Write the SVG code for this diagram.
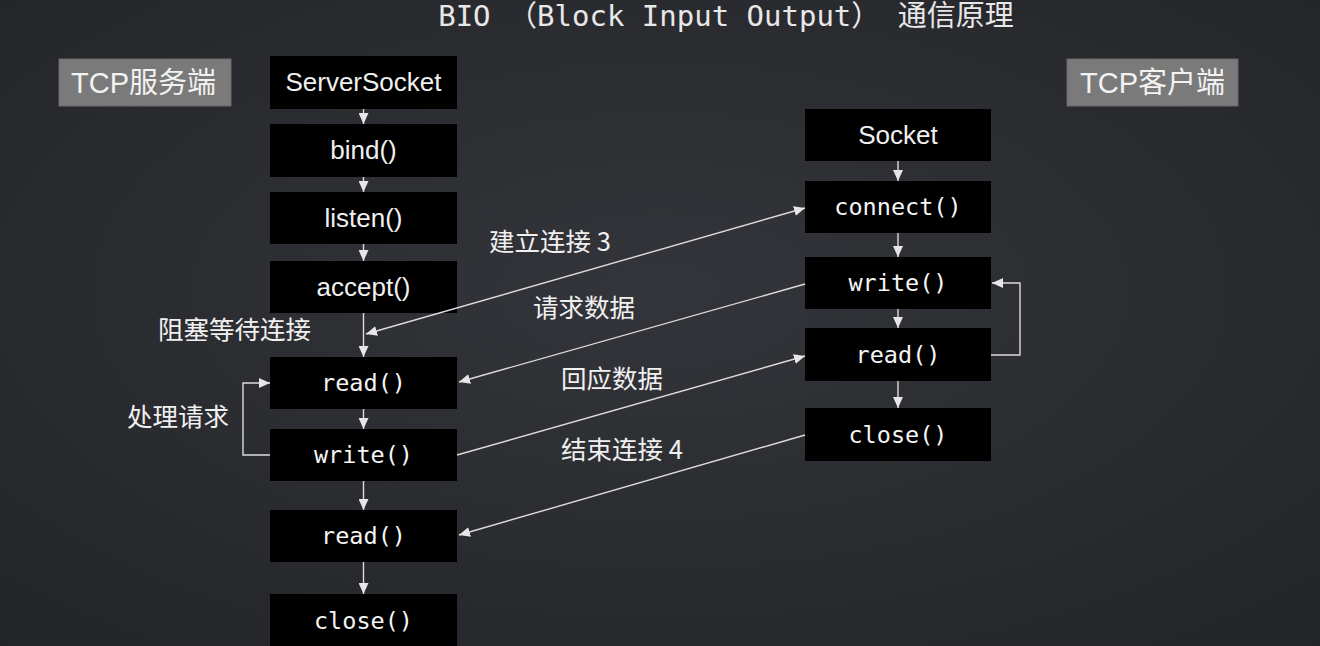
<svg xmlns="http://www.w3.org/2000/svg" width="1320" height="646" viewBox="0 0 1320 646">
  <defs>
    <radialGradient id="bg" cx="50%" cy="45%" r="75%">
      <stop offset="0" stop-color="#34353a"/>
      <stop offset="1" stop-color="#232428"/>
    </radialGradient>
    <marker id="ah" markerUnits="userSpaceOnUse" markerWidth="12" markerHeight="10" refX="11" refY="5" orient="auto-start-reverse">
      <path d="M0,0 L11,5 L0,10 z" fill="#e6e6e6"/>
    </marker>
    <style>
      .box { fill: #000; }
      .tag { fill: #7a7a7a; stroke: #6a6a6a; stroke-width: 1; }
      .sans { font-family: "Liberation Sans", Arial, sans-serif; font-size: 26px; fill: #f0f0f0; text-anchor: middle; }
      .mono { font-family: "DejaVu Sans Mono", "Liberation Mono", monospace; font-size: 23.5px; fill: #f4f4f4; text-anchor: middle; }
      .tagtxt { font-family: "Liberation Sans", "Noto Sans CJK SC", sans-serif; font-size: 29px; fill: #f2f2f2; }
      .lbl { font-family: "Noto Sans CJK SC", "Liberation Sans", sans-serif; font-size: 25.5px; fill: #f0f0f0; }
      .title { font-family: "DejaVu Sans Mono", "Noto Sans CJK SC", monospace; font-size: 29px; fill: #e8e8e8; text-anchor: middle; }
      .conn { stroke: #dcdcdc; stroke-width: 1.4; fill: none; }
      .conn path, .conn line { marker-end: url(#ah); }
    </style>
  </defs>

  <rect width="1320" height="646" fill="url(#bg)"/>

  <text class="title" x="726" y="26">BIO （Block Input Output） 通信原理</text>

  <g id="tag-server">
    <rect class="tag" x="59" y="59" width="172" height="47"/>
    <text class="tagtxt" x="71" y="93">TCP服务端</text>
  </g>
  <g id="tag-client">
    <rect class="tag" x="1067" y="59" width="171" height="47"/>
    <text class="tagtxt" x="1080" y="93">TCP客户端</text>
  </g>

  <!-- server column -->
  <g id="s-serversocket"><rect class="box" x="270" y="56" width="187" height="53"/><text class="sans" x="363.5" y="91">ServerSocket</text></g>
  <g id="s-bind"><rect class="box" x="270" y="124" width="187" height="53"/><text class="sans" x="363.5" y="159">bind()</text></g>
  <g id="s-listen"><rect class="box" x="270" y="192" width="187" height="52"/><text class="sans" x="363.5" y="227">listen()</text></g>
  <g id="s-accept"><rect class="box" x="270" y="261" width="187" height="52"/><text class="sans" x="363.5" y="296">accept()</text></g>
  <g id="s-read1"><rect class="box" x="270" y="357" width="187" height="52"/><text class="mono" x="363.5" y="391">read()</text></g>
  <g id="s-write"><rect class="box" x="270" y="429" width="187" height="52"/><text class="mono" x="363.5" y="463">write()</text></g>
  <g id="s-read2"><rect class="box" x="270" y="510" width="187" height="52"/><text class="mono" x="363.5" y="544">read()</text></g>
  <g id="s-close"><rect class="box" x="270" y="594" width="187" height="52"/><text class="mono" x="363.5" y="629">close()</text></g>

  <!-- client column -->
  <g id="c-socket"><rect class="box" x="805" y="109" width="186" height="52"/><text class="sans" x="898" y="144">Socket</text></g>
  <g id="c-connect"><rect class="box" x="805" y="181" width="186" height="52"/><text class="mono" x="898" y="215">connect()</text></g>
  <g id="c-write"><rect class="box" x="805" y="257" width="186" height="52"/><text class="mono" x="898" y="291">write()</text></g>
  <g id="c-read"><rect class="box" x="805" y="328" width="186" height="53"/><text class="mono" x="898" y="363">read()</text></g>
  <g id="c-close"><rect class="box" x="805" y="408" width="186" height="53"/><text class="mono" x="898" y="443">close()</text></g>

  <!-- labels -->
  <g id="labels">
    <text class="lbl" x="158" y="339">阻塞等待连接</text>
    <text class="lbl" x="127" y="426">处理请求</text>
    <text class="lbl" x="489" y="251">建立连接 3</text>
    <text class="lbl" x="533" y="317">请求数据</text>
    <text class="lbl" x="561" y="388">回应数据</text>
    <text class="lbl" x="561" y="459">结束连接 4</text>
  </g>

  <g id="connectors" class="conn">
    <line x1="363.5" y1="109" x2="363.5" y2="124"/>
    <line x1="363.5" y1="177" x2="363.5" y2="192"/>
    <line x1="363.5" y1="244" x2="363.5" y2="261"/>
    <line x1="363.5" y1="313" x2="363.5" y2="357"/>
    <line x1="363.5" y1="409" x2="363.5" y2="429"/>
    <line x1="363.5" y1="481" x2="363.5" y2="510"/>
    <line x1="363.5" y1="562" x2="363.5" y2="594"/>
    <line x1="898" y1="161" x2="898" y2="181"/>
    <line x1="898" y1="233" x2="898" y2="257"/>
    <line x1="898" y1="309" x2="898" y2="328"/>
    <line x1="898" y1="381" x2="898" y2="408"/>
    <path d="M270,455 H243 V383 H270"/>
    <path d="M991,355 H1020 V283 H992"/>
    <line x1="366" y1="334" x2="805" y2="208" style="marker-start:url(#ah)"/>
    <line x1="805" y1="284" x2="459" y2="382"/>
    <line x1="457" y1="455" x2="805" y2="356"/>
    <line x1="805" y1="435" x2="459" y2="535"/>
  </g>
</svg>
